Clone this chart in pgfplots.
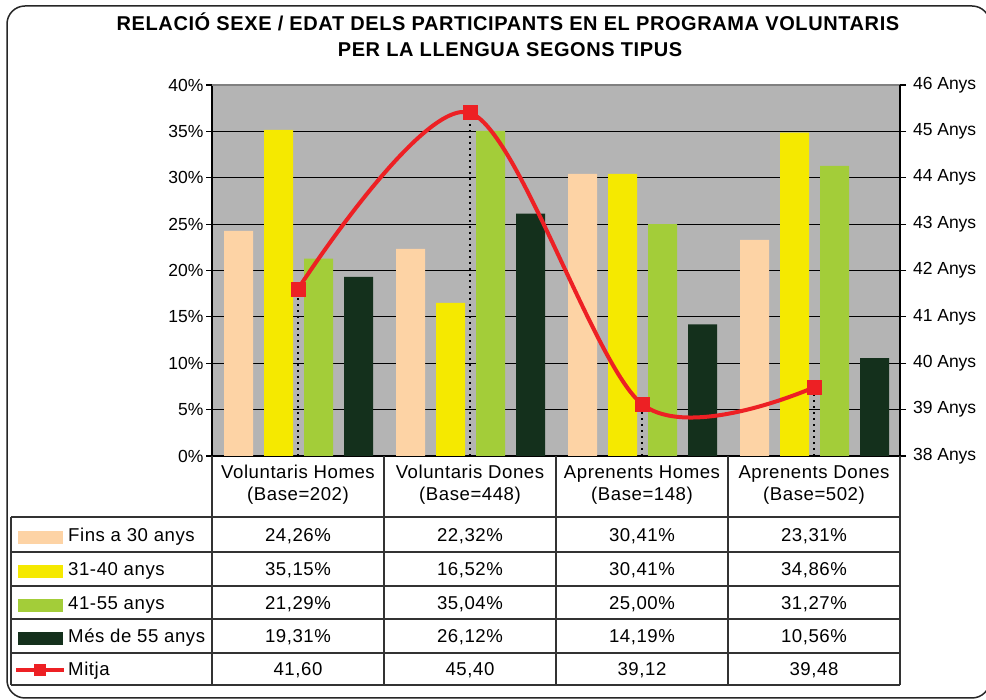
\documentclass[border=0pt]{standalone}
\usepackage{pgfplots}
\pgfplotsset{compat=1.18}
\usepackage{fontspec}
\setmainfont{Liberation Sans}
\newfontfamily\tabfont[LetterSpace=3]{Liberation Sans}
\newfontfamily\titlefont[LetterSpace=3]{Liberation Sans}
\definecolor{plotgrey}{HTML}{B4B4B4}
\definecolor{peach}{HTML}{FDD3A5}
\definecolor{myyellow}{HTML}{F5E900}
\definecolor{mygreen}{HTML}{A3CD39}
\definecolor{mydark}{HTML}{14301C}
\definecolor{mred}{HTML}{ED2024}
\definecolor{tline}{HTML}{333333}
\begin{document}
\begin{tikzpicture}
\useasboundingbox (0pt,0pt) rectangle (986pt,700pt);
\fill[white] (0pt,0pt) rectangle (986pt,700pt);
\draw[line width=1.5pt, black!85, rounded corners=18pt] (7pt,2pt) rectangle (990pt,694pt);
\node[anchor=base, inner sep=0pt] at (508pt,669pt) {\titlefont\fontsize{20}{24}\selectfont\bfseries RELACIÓ SEXE / EDAT DELS PARTICIPANTS EN EL PROGRAMA VOLUNTARIS};
\node[anchor=base, inner sep=0pt] at (510pt,643pt) {\titlefont\fontsize{20}{24}\selectfont\bfseries PER LA LLENGUA SEGONS TIPUS};

\begin{axis}[
  at={(212pt,244pt)}, anchor=south west,
  scale only axis, width=688pt, height=371pt,
  xmin=-0.5, xmax=3.5, ymin=0, ymax=40,
  axis background/.style={fill=plotgrey},
  xtick=\empty,
  minor xtick={0.5,1.5,2.5},
  xminorgrids,
  minor grid style={black!80, line width=1.2pt},
  minor tick length=0pt,
  ytick={0,5,...,40},
  yticklabels={0\%,5\%,10\%,15\%,20\%,25\%,30\%,35\%,40\%},
  ymajorgrids,
  major grid style={black, line width=1pt},
  axis line style={black, line width=1.2pt},
  tick style={black, line width=1.2pt},
  ytick pos=left,
  tick align=outside,
  major tick length=6pt,
  yticklabel style={font=\fontsize{17.5}{20}\selectfont, xshift=1pt},
]
\addplot[ybar, bar width=29pt, bar shift=-59.5pt, fill=peach, draw=none] coordinates {(0,24.26) (1,22.32) (2,30.41) (3,23.31)};
\addplot[ybar, bar width=29pt, bar shift=-19.5pt, fill=myyellow, draw=none] coordinates {(0,35.15) (1,16.52) (2,30.41) (3,34.86)};
\addplot[ybar, bar width=29pt, bar shift=20.5pt, fill=mygreen, draw=none] coordinates {(0,21.29) (1,35.04) (2,25.00) (3,31.27)};
\addplot[ybar, bar width=29pt, bar shift=60.5pt, fill=mydark, draw=none] coordinates {(0,19.31) (1,26.12) (2,14.19) (3,10.56)};
\draw[gray, line width=1.5pt] (rel axis cs:0,1) -- (rel axis cs:1,1);
\end{axis}

\begin{axis}[
  at={(212pt,244pt)}, anchor=south west,
  scale only axis, width=688pt, height=371pt,
  xmin=-0.5, xmax=3.5, ymin=38, ymax=46,
  axis y line*=right, axis x line=none,
  ytick={38,...,46},
  yticklabels={38 Anys,39 Anys,40 Anys,41 Anys,42 Anys,43 Anys,44 Anys,45 Anys,46 Anys},
  axis line style={black, line width=1.2pt},
  tick style={black, line width=1.2pt},
  tick align=outside,
  major tick length=6pt,
  yticklabel style={font=\fontsize{17.5}{20}\selectfont, xshift=3.5pt},
]
\addplot[ycomb, black, line width=2pt, dash pattern=on 2pt off 4pt] coordinates {(0,41.60) (1,45.40) (2,39.12) (3,39.48)};
\addplot[mred, line width=4pt, smooth, mark=square*, mark size=7pt, mark options={solid, line width=0pt, fill=mred, draw=mred}] coordinates {(0,41.60) (1,45.40) (2,39.12) (3,39.48)};
\end{axis}

% data table
\begin{scope}[line width=1.5pt, tline]
\foreach \yy in {183,148,114,81,47,15} {\draw (11pt,\yy pt) -- (900pt,\yy pt);}
\draw (11pt,183pt) -- (11pt,15pt);
\foreach \xx in {212,384,556,728,900} {\draw (\xx pt,244pt) -- (\xx pt,15pt);}
\end{scope}
\begin{scope}[every node/.style={anchor=base, inner sep=0pt, font=\tabfont\fontsize{18.6}{22}\selectfont}]
\node at (298pt,221pt) {Voluntaris Homes};
\node at (298pt,199pt) {(Base=202)};
\node at (470pt,221pt) {Voluntaris Dones};
\node at (470pt,199pt) {(Base=448)};
\node at (642pt,221pt) {Aprenents Homes};
\node at (642pt,199pt) {(Base=148)};
\node at (814pt,221pt) {Aprenents Dones};
\node at (814pt,199pt) {(Base=502)};
% rows
\node at (298pt,158.5pt) {24,26\%}; \node at (470pt,158.5pt) {22,32\%}; \node at (642pt,158.5pt) {30,41\%}; \node at (814pt,158.5pt) {23,31\%};
\node at (298pt,124pt) {35,15\%}; \node at (470pt,124pt) {16,52\%}; \node at (642pt,124pt) {30,41\%}; \node at (814pt,124pt) {34,86\%};
\node at (298pt,90.5pt) {21,29\%}; \node at (470pt,90.5pt) {35,04\%}; \node at (642pt,90.5pt) {25,00\%}; \node at (814pt,90.5pt) {31,27\%};
\node at (298pt,57pt) {19,31\%}; \node at (470pt,57pt) {26,12\%}; \node at (642pt,57pt) {14,19\%}; \node at (814pt,57pt) {10,56\%};
\node at (298pt,24pt) {41,60}; \node at (470pt,24pt) {45,40}; \node at (642pt,24pt) {39,12}; \node at (814pt,24pt) {39,48};
\node[anchor=base west] at (68pt,158.5pt) {Fins a 30 anys};
\node[anchor=base west] at (68pt,124pt) {31-40 anys};
\node[anchor=base west] at (68pt,90.5pt) {41-55 anys};
\node[anchor=base west] at (68pt,57pt) {Més de 55 anys};
\node[anchor=base west] at (68pt,24pt) {Mitja};
\end{scope}
\fill[peach] (18pt,156pt) rectangle (63pt,169pt);
\fill[myyellow] (18pt,122pt) rectangle (63pt,135pt);
\fill[mygreen] (18pt,88pt) rectangle (63pt,101pt);
\fill[mydark] (18pt,55pt) rectangle (63pt,68pt);
\draw[mred, line width=4pt] (16pt,30pt) -- (64pt,30pt);
\fill[mred] (34pt,24pt) rectangle (46pt,36pt);
\end{tikzpicture}
\end{document}
